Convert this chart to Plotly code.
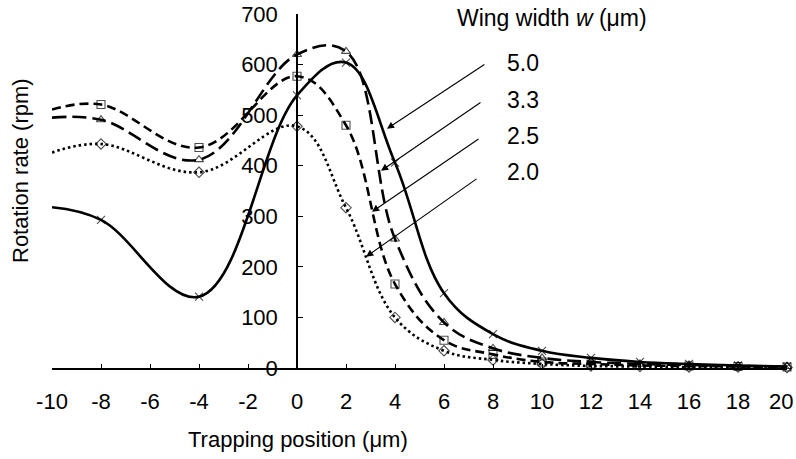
import plotly.graph_objects as go

x = [-10, -8, -4, 0, 2, 4, 6, 8, 10, 12, 14, 16, 18, 20]
w50 = [318, 293, 141, 539, 604, 406, 148, 67, 34, 20, 12, 8, 5, 3]
w33 = [495, 491, 412, 620, 626, 255, 90, 39, 20, 12, 8, 6, 4, 3]
w25 = [511, 521, 436, 577, 480, 166, 55, 27, 12, 8, 5, 4, 3, 2]
w20 = [426, 443, 387, 478, 317, 100, 34, 16, 8, 4, 3, 2, 2, 1]
labels = ["5.0", "3.3", "2.5", "2.0"]
xticks = list(range(-10, 21, 2))
xticktext = [str(v) for v in xticks]

FONT = "Arial, Liberation Sans, sans-serif"
series = [
    (w50, "solid", "x-thin-open"),
    (w33, "14px,6px", "triangle-up-open"),
    (w25, "9px,5px", "square-open"),
    (w20, "2.5px,3px", "diamond-open"),
]

# plot area in pixels
L, R, T, B = 52, 787, 14, 368
def px(p):
    return (p - L) / (R - L)
def py(p):
    return (B - p) / (B - T)

fig = go.Figure()
for (vals, dash, sym), lab in zip(series, labels):
    sizes = [0] + [8] * (len(x) - 1)
    fig.add_trace(go.Scatter(
        x=x, y=vals, name=lab, mode="lines+markers",
        line=dict(color="black", width=2.6, dash=dash, shape="spline", smoothing=1.1),
        marker=dict(symbol=sym, size=sizes, color="black", line=dict(width=1.1, color="black")),
        cliponaxis=False, showlegend=False,
    ))

# arrows: head (x, y) and tail (ax, ay) in data units
heads = [(3.67, 473), (3.43, 390), (3.06, 309), (2.82, 220)]
tails = [(7.71, 602), (7.55, 527), (7.47, 455), (7.39, 376)]
for (hx, hy), (tx, ty) in zip(heads, tails):
    fig.add_annotation(x=hx, y=hy, ax=tx, ay=ty, xref="x", yref="y", axref="x", ayref="y",
                       showarrow=True, arrowhead=2, arrowsize=1.3, arrowwidth=1.1,
                       arrowcolor="black", text="")

label_y = [63, 100, 136, 172]
for lab, yy in zip(labels, label_y):
    fig.add_annotation(x=px(523), y=py(yy), xref="paper", yref="paper",
                       text=lab, showarrow=False, font=dict(family=FONT, size=23, color="black"),
                       xanchor="center", yanchor="middle")

fig.add_annotation(x=px(552), y=py(18), xref="paper", yref="paper",
                   text="Wing width <i>w</i> (\u03bcm)", showarrow=False,
                   font=dict(family=FONT, size=23, color="black"), xanchor="center", yanchor="middle")
fig.add_annotation(x=px(298), y=py(440), xref="paper", yref="paper",
                   text="Trapping position (\u03bcm)", showarrow=False,
                   font=dict(family=FONT, size=22, color="black"), xanchor="center", yanchor="middle")
fig.add_annotation(x=px(20), y=py(171), xref="paper", yref="paper",
                   text="Rotation rate (rpm)", showarrow=False, textangle=-90,
                   font=dict(family=FONT, size=22, color="black"), xanchor="center", yanchor="middle")

# last x tick label sits at the right edge of the picture: draw it right-aligned
last_label = xticktext[-1]
xticktext = xticktext[:-1] + [""]
fig.add_annotation(x=px(796), y=py(402), xref="paper", yref="paper", text=last_label,
                   showarrow=False, font=dict(family=FONT, size=22, color="black"),
                   xanchor="right", yanchor="middle", xshift=-1)

fig.update_layout(
    width=796, height=459,
    margin=dict(l=L, r=796 - R, t=T, b=459 - B, autoexpand=False),
    paper_bgcolor="white", plot_bgcolor="white",
    font=dict(family=FONT, color="black"),
    xaxis=dict(range=[-10, 20], tickvals=xticks, ticktext=xticktext, showgrid=False, zeroline=False,
               showline=True, linecolor="black", linewidth=1.5, ticks="inside", ticklen=4,
               tickcolor="black", tickfont=dict(size=22), ticklabelstandoff=13,
               ticklabeloverflow="allow", automargin=False),
    yaxis=dict(range=[0, 700], tickvals=list(range(0, 701, 100)), showgrid=False, zeroline=False,
               showline=True, linecolor="black", linewidth=1.5, ticks="inside", ticklen=5,
               tickcolor="black", tickfont=dict(size=22), anchor="free", position=1 / 3,
               ticklabelstandoff=14, automargin=False),
)

fig.write_html("out.html")
